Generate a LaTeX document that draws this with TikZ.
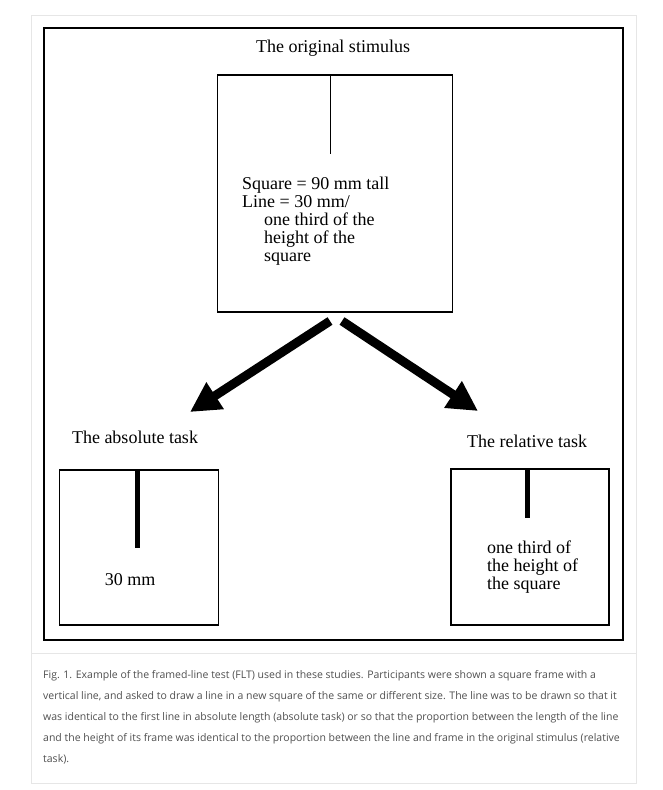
\documentclass[tikz,border=0pt]{standalone}
\usepackage{fontspec}
\setmainfont{Liberation Serif}
\newfontfamily\capfont{Open Sans}
\usetikzlibrary{arrows.meta}

\definecolor{cardline}{HTML}{E6E6E6}
\definecolor{captext}{HTML}{505050}

\tikzset{
  frame/.style={draw, line width=1.6pt, inner sep=0pt},
  label/.style={font=\fontsize{18}{18}\selectfont, inner sep=0pt},
  bigarrow/.style={line width=9pt, -{Triangle[length=30pt,width=30pt]}},
  caption/.style={font=\capfont\fontsize{10.5}{21}\selectfont, text=captext,
    align=left, anchor=north west, inner sep=0pt}
}

\begin{document}
\begin{tikzpicture}[x=1pt, y=-1pt]
  \useasboundingbox[fill=white] (0, 0) rectangle (662, 790);

  % card and figure frame
  \draw[cardline, fill=white] (31.5, 15.5) rectangle (636, 783);
  \draw[cardline] (32, 653.5) -- (636, 653.5);
  \draw[line width=1.4pt] (44, 28) rectangle (623, 640);

  % the original stimulus
  \node[label] (title) at (333, 48) {The original stimulus};
  \node[frame, minimum width=235pt, minimum height=237pt] (orig) at (335, 193.5) {};
  \coordinate (origtop) at (330.5, 75);
  \coordinate (origend) at (330.5, 154);
  \draw[line width=1.4pt] (origtop) -- (origend);
  \node[label, anchor=base west] (sq1) at (242, 189) {Square = 90 mm tall};
  \node[label, anchor=base west] (sq2) at (242, 207) {Line = 30 mm/};
  \node[label, anchor=base west] (sq3) at (264, 225) {one third of the};
  \node[label, anchor=base west] (sq4) at (264, 243) {height of the};
  \node[label, anchor=base west] (sq5) at (264, 261) {square};

  % arrows
  \coordinate (ltail) at (330, 321);
  \coordinate (ltip) at (190, 412);
  \coordinate (rtail) at (342, 321);
  \coordinate (rtip) at (478, 411);
  \draw[bigarrow] (ltail) -- (ltip);
  \draw[bigarrow] (rtail) -- (rtip);

  % the absolute task
  \node[label] (abstitle) at (135, 437) {The absolute task};
  \node[frame, minimum width=159pt, minimum height=155pt] (abs) at (139, 547.5) {};
  \coordinate (abstop) at (137, 470);
  \coordinate (absend) at (137, 548);
  \draw[line width=5pt] (abstop) -- (absend);
  \node[label] (abslen) at (130, 580) {30 mm};

  % the relative task
  \node[label] (reltitle) at (527, 441) {The relative task};
  \node[frame, minimum width=158pt, minimum height=156pt] (rel) at (530, 547) {};
  \coordinate (reltop) at (527, 469);
  \coordinate (relend) at (527, 518);
  \draw[line width=5pt] (reltop) -- (relend);
  \node[label, anchor=base west] (rel1) at (487, 553) {one third of};
  \node[label, anchor=base west] (rel2) at (487, 571) {the height of};
  \node[label, anchor=base west] (rel3) at (487, 589) {the square};

  % caption
  \node[caption] (cap) at (43, 670) {Fig. 1. Example of the framed-line test (FLT) used in these studies. Participants were shown a square frame with a\\
    vertical line, and asked to draw a line in a new square of the same or different size. The line was to be drawn so that it\\
    was identical to the first line in absolute length (absolute task) or so that the proportion between the length of the line\\
    and the height of its frame was identical to the proportion between the line and frame in the original stimulus (relative\\
    task).};
\end{tikzpicture}
\end{document}
